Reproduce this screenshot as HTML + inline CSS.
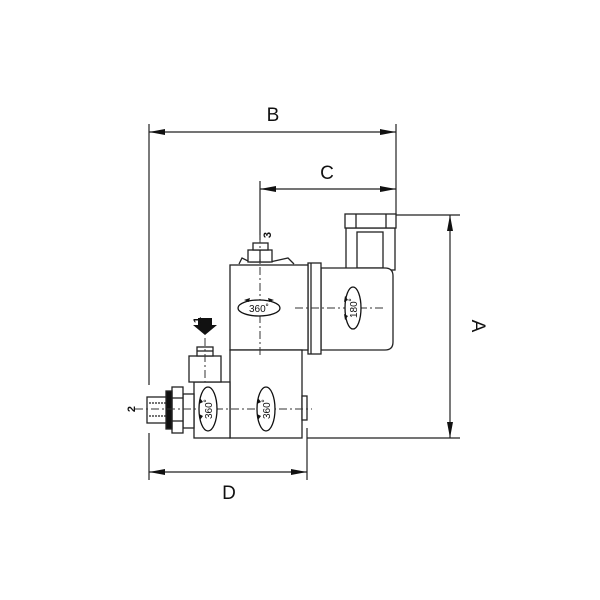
<!DOCTYPE html>
<html><head><meta charset="utf-8"><style>
html,body{margin:0;padding:0;background:#fff;}
svg{display:block;}
text{font-family:"Liberation Sans",sans-serif;fill:#111;}
</style></head><body>
<svg width="600" height="600" viewBox="0 0 600 600" xmlns="http://www.w3.org/2000/svg">
<defs>
<marker id="ar" markerWidth="16" markerHeight="6" refX="16" refY="3" orient="auto" markerUnits="userSpaceOnUse">
<path d="M0,0 L16,3 L0,6 Z" fill="#111"/></marker>
<marker id="al" markerWidth="16" markerHeight="6" refX="0" refY="3" orient="auto" markerUnits="userSpaceOnUse">
<path d="M16,0 L0,3 L16,6 Z" fill="#111"/></marker>
</defs>
<g stroke="#222" stroke-width="1.2" fill="none">
<!-- extension lines -->
<line x1="149" y1="124" x2="149" y2="385"/>
<line x1="149" y1="433" x2="149" y2="480"/>
<line x1="396" y1="124" x2="396" y2="214"/>
<line x1="260" y1="181" x2="260" y2="240"/>
<line x1="396" y1="215" x2="460" y2="215"/>
<line x1="307" y1="438" x2="460" y2="438"/>
<line x1="307" y1="428" x2="307" y2="480"/>
<!-- dimension lines -->
<line x1="149" y1="132" x2="396" y2="132" marker-start="url(#al)" marker-end="url(#ar)"/>
<line x1="260" y1="189" x2="396" y2="189" marker-start="url(#al)" marker-end="url(#ar)"/>
<line x1="450" y1="215" x2="450" y2="438" marker-start="url(#al)" marker-end="url(#ar)"/>
<line x1="149" y1="472" x2="307" y2="472" marker-start="url(#al)" marker-end="url(#ar)"/>
</g>
<text x="273" y="121" font-size="19" text-anchor="middle">B</text>
<text x="327" y="179" font-size="19" text-anchor="middle">C</text>
<text x="229" y="499" font-size="19" text-anchor="middle">D</text>
<text x="0" y="0" font-size="19" text-anchor="middle" transform="translate(472,326) rotate(90)">A</text>

<g stroke="#222" stroke-width="1.3" fill="#fff">
<!-- connector -->
<rect x="346" y="228" width="49" height="42"/>
<rect x="357" y="232" width="26" height="36" fill="none"/>
<rect x="345" y="214" width="51" height="14"/>
<line x1="356" y1="214" x2="356" y2="228"/>
<line x1="386" y1="214" x2="386" y2="228"/>
<!-- right coil -->
<path d="M321,268 H385 Q393,268 393,276 V342 Q393,350 385,350 H321 Z"/>
<!-- flange -->
<rect x="308" y="263" width="13" height="91"/>
<line x1="311" y1="263" x2="311" y2="354"/>
<!-- upper coil -->
<rect x="230" y="265" width="78" height="85"/>
<!-- top nut -->
<path d="M239,264 L242,258 L250,262 L270,262 L288,258 L294,264" fill="none"/>
<rect x="248" y="250" width="24" height="12"/>
<rect x="253" y="243" width="15" height="7"/>
<line x1="260" y1="250" x2="260" y2="262"/>
<!-- lower block -->
<rect x="230" y="350" width="72" height="88"/>
<rect x="302" y="396" width="5" height="24"/>
<!-- left block -->
<rect x="194" y="382" width="36" height="56"/>
<rect x="189" y="356" width="32" height="26"/>
<rect x="197" y="347" width="16" height="9"/>
<line x1="197" y1="351" x2="213" y2="351"/>
<!-- fitting -->
<rect x="183" y="394" width="11" height="34"/>
<rect x="172" y="387" width="11" height="46"/>
<line x1="172" y1="398" x2="183" y2="398"/>
<line x1="172" y1="421" x2="183" y2="421"/>
<rect x="166" y="391" width="6" height="38" fill="#111"/>
<rect x="147" y="397" width="19" height="26"/>
<line x1="149" y1="403" x2="166" y2="403" stroke-dasharray="2,1"/>
<line x1="149" y1="416" x2="166" y2="416" stroke-dasharray="2,1"/>
</g>
<!-- centerlines -->
<g stroke="#333" stroke-width="1" stroke-dasharray="8,3,2,3" fill="none">
<line x1="260" y1="235" x2="260" y2="358"/>
<line x1="295" y1="308" x2="385" y2="308"/>
<line x1="135" y1="409" x2="312" y2="409"/>
<line x1="205" y1="338" x2="205" y2="382"/>
</g>
<!-- ellipses -->
<g stroke="#111" stroke-width="1.3" fill="#fff">
<ellipse cx="259" cy="308" rx="21" ry="8"/>
<ellipse cx="353" cy="308" rx="8" ry="21"/>
<ellipse cx="208" cy="409" rx="9" ry="22"/>
<ellipse cx="266" cy="409" rx="9" ry="22"/>
</g>
<g fill="#111">
<path d="M244,300 l6,-2 l-1,4 z"/><path d="M274,300 l-6,-2 l1,4 z"/>
<path d="M345,296 l-1,6 l4,-2 z"/><path d="M345,320 l-1,-6 l4,2 z"/>
<path d="M200,398 l-1,6 l4,-2 z"/><path d="M200,420 l-1,-6 l4,2 z"/>
<path d="M258,398 l-1,6 l4,-2 z"/><path d="M258,420 l-1,-6 l4,2 z"/>
<!-- arrow 1 -->
<path d="M198,318 H212 V325 H217 L205,335 L193,325 H198 Z"/>
</g>
<text x="259" y="312" font-size="10" text-anchor="middle">360˚</text>
<text font-size="10" text-anchor="middle" transform="translate(357,308) rotate(-90)">180˚</text>
<text font-size="10" text-anchor="middle" transform="translate(212,409) rotate(-90)">360˚</text>
<text font-size="10" text-anchor="middle" transform="translate(270,409) rotate(-90)">360˚</text>
<text font-size="11" font-weight="bold" text-anchor="middle" transform="translate(201,320) rotate(-90)">1</text>
<text font-size="11" font-weight="bold" text-anchor="middle" transform="translate(135,409) rotate(-90)">2</text>
<text font-size="11" font-weight="bold" text-anchor="middle" transform="translate(271,235) rotate(-90)">3</text>
</svg>
</body></html>
